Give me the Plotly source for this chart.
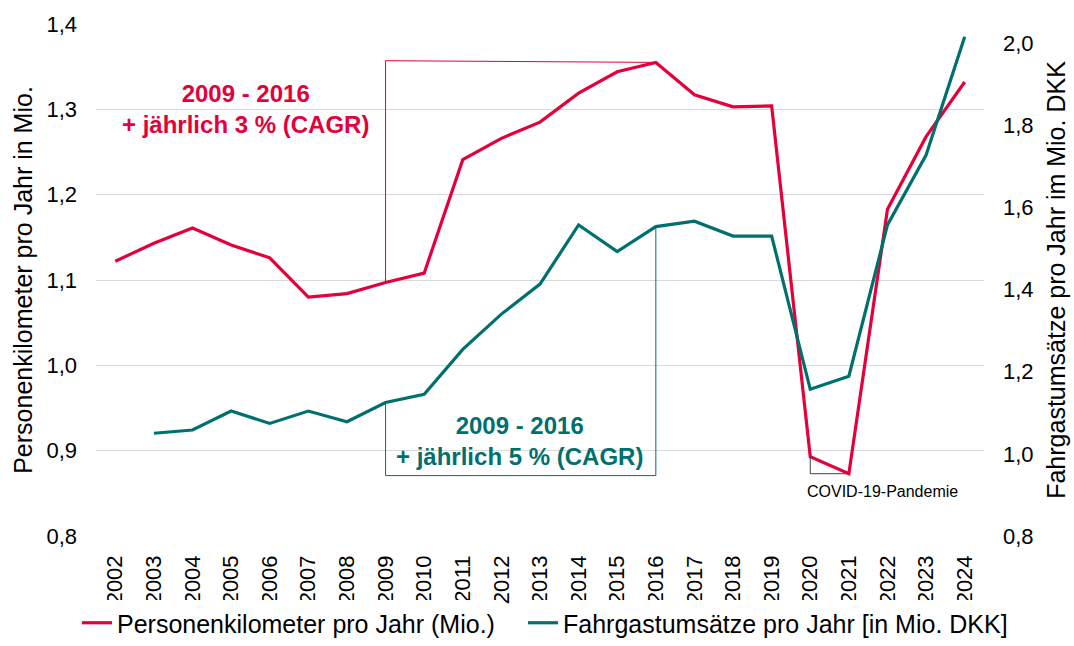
import plotly.graph_objects as go

years = [str(y) for y in range(2002, 2025)]
pkm = [1.122, 1.143, 1.161, 1.141, 1.126, 1.080, 1.084, 1.097, 1.108, 1.241, 1.266,
       1.285, 1.319, 1.344, 1.355, 1.317, 1.303, 1.304, 0.893, 0.873, 1.183, 1.268, 1.332]
umsatz = [None, 1.050, 1.058, 1.104, 1.074, 1.104, 1.078, 1.125, 1.145, 1.254, 1.340,
          1.413, 1.557, 1.492, 1.553, 1.566, 1.530, 1.530, 1.157, 1.189, 1.557, 1.727, 2.015]

left_ticks = [0.8, 0.9, 1.0, 1.1, 1.2, 1.3, 1.4]
right_ticks = [0.8, 1.0, 1.2, 1.4, 1.6, 1.8, 2.0]

RED = "#E4003A"
TEAL = "#00706E"
FONT = "Liberation Sans, Arial, sans-serif"

fig = go.Figure()
fig.add_trace(go.Scatter(x=years, y=pkm, mode="lines", name="Personenkilometer pro Jahr (Mio.)",
                         line=dict(color=RED, width=3.2), legend="legend"))
fig.add_trace(go.Scatter(x=years, y=umsatz, mode="lines", name="Fahrgastumsätze pro Jahr [in Mio. DKK]",
                         line=dict(color=TEAL, width=3.2), yaxis="y2", legend="legend2"))

i09 = years.index("2009")
i16 = years.index("2016")
i20 = years.index("2020")
i21 = years.index("2021")

# red bracket
fig.add_shape(type="path",
              path=f"M {i09},{pkm[i09]} L {i09},{pkm[i16]+0.002} L {i16},{pkm[i16]}",
              xref="x", yref="y", line=dict(color=RED, width=1))
# teal bracket
teal_bottom = 0.947
fig.add_shape(type="path",
              path=f"M {i09},{umsatz[i09]} L {i09},{teal_bottom} L {i16},{teal_bottom} L {i16},{umsatz[i16]}",
              xref="x", yref="y2", line=dict(color=TEAL, width=1))
# covid bracket
fig.add_shape(type="path",
              path=f"M {i20},{pkm[i20]} L {i20},{pkm[i21]} L {i21},{pkm[i21]}",
              xref="x", yref="y", line=dict(color="#404040", width=1))

fig.add_annotation(x=3.36, y=1.300, xref="x", yref="y", showarrow=False,
                   text="<b>2009 - 2016<br>+ jährlich 3 % (CAGR)</b>",
                   font=dict(color=RED, size=24, family=FONT), align="center")
fig.add_annotation(x=10.48, y=0.911, xref="x", yref="y", showarrow=False,
                   text="<b>2009 - 2016<br>+ jährlich 5 % (CAGR)</b>",
                   font=dict(color=TEAL, size=24, family=FONT), align="center")
fig.add_annotation(x=19.88, y=0.852, xref="x", yref="y", showarrow=False,
                   text="COVID-19-Pandemie",
                   font=dict(color="#000000", size=16, family=FONT))

leg_common = dict(orientation="h", xanchor="left", xref="container",
                  y=-0.017, yanchor="bottom", yref="container",
                  font=dict(size=25, family=FONT), itemwidth=30)

fig.update_layout(
    width=1074, height=646,
    margin=dict(l=96, r=90, t=24, b=110, autoexpand=False),
    plot_bgcolor="white", paper_bgcolor="white",
    separators=", ",
    font=dict(family=FONT, color="#000000", size=22),
    showlegend=True,
    legend=dict(x=77 / 1074, **leg_common),
    legend2=dict(x=523 / 1074, **leg_common),
    xaxis=dict(type="category", range=[-0.5, len(years) - 0.5], tickangle=-90,
               showgrid=False, showline=False, ticks="", tickfont=dict(size=22),
               ticklabelstandoff=14),
    yaxis=dict(range=[0.8, 1.4], tickvals=left_ticks, tickformat=".1f",
               showgrid=True, gridcolor="#D9D9D9", gridwidth=1.3, zeroline=False,
               showline=False, ticks="", ticklabelstandoff=18,
               title=dict(text="Personenkilometer pro Jahr in Mio.", font=dict(size=25), standoff=6),
               tickfont=dict(size=22)),
    yaxis2=dict(range=[0.8, 2.046], tickvals=right_ticks, tickformat=".1f", overlaying="y",
                side="right", showgrid=False, zeroline=False, showline=False, ticks="",
                ticklabelstandoff=18,
                title=dict(text="Fahrgastumsätze pro Jahr im Mio. DKK", font=dict(size=25), standoff=14),
                tickfont=dict(size=22)),
)

fig.write_html("out.html", config={"displayModeBar": False},
               post_script="document.body.style.margin='0';document.body.style.padding='0';")
